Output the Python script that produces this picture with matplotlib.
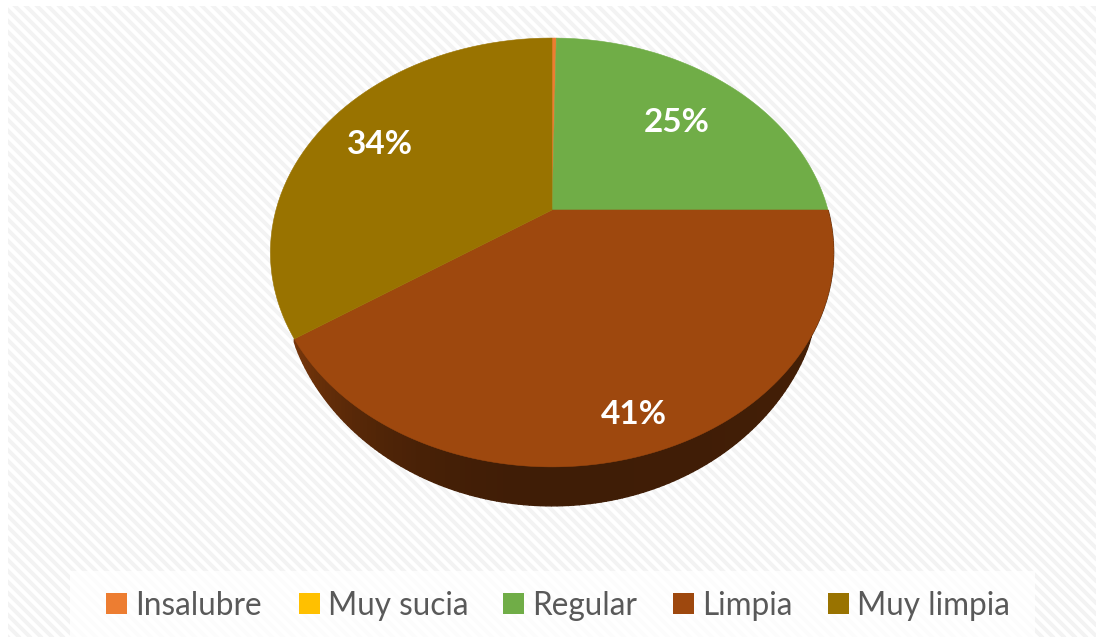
import numpy as np
import matplotlib
matplotlib.use("Agg")
import matplotlib.pyplot as plt
from matplotlib.collections import LineCollection
from matplotlib.patches import Rectangle

categories = ["Insalubre", "Muy sucia", "Regular", "Limpia", "Muy limpia"]
values = [0.3, 0.0, 24.7, 40.6, 34.4]
pct_labels = ["25%", "41%", "34%"]
colors = ["#ed7d31", "#ffc000", "#70ad47", "#9e480e", "#997300"]

plt.rcParams["font.family"] = ["Lato", "DejaVu Sans"]

# pie geometry in pixels, the apex is not the middle of the ellipse (perspective)
CX, CY = 552.0, 210.0
R, K, TILT = 276.0, 206.0, 0.198
DEPTH = 39.0
RIM_START = 337.0  # the side face only shows below this height


def project(theta):
    # theta is clockwise from 12 o'clock
    x = np.sin(theta)
    y = np.cos(theta)
    w = 1 + TILT * y
    return CX + R * x / w, CY - K * y / w


def side_depth(py):
    bottom = CY + K / (1 - TILT)
    return DEPTH * np.clip((py - RIM_START) / (bottom - RIM_START), 0, 1) ** 0.6


fig = plt.figure(figsize=(10.96, 6.37), dpi=100)
ax = fig.add_axes([0, 0, 1, 1])
ax.set_xlim(0, 1096)
ax.set_ylim(637, 0)
ax.axis("off")

# striped chart area and the paler strip behind the legend
area = Rectangle((8, 6), 1088, 631, facecolor="white", edgecolor="none", zorder=0)
ax.add_patch(area)
starts = np.arange(-640, 1100, 11)
stripes = LineCollection([[(s, 0), (s + 640, 640)] for s in starts],
                         colors="#f3f3f3", linewidths=2.8, zorder=0.5)
ax.add_collection(stripes)
stripes.set_clip_path(area)
ax.add_patch(Rectangle((70, 571), 965, 66, facecolor="#ffffff", edgecolor="none",
                       alpha=0.8, zorder=1))

edges = np.cumsum([0] + values) / sum(values) * 2 * np.pi

# side of the pie, one polygon per small step so the shade can change along the rim
base = np.array(matplotlib.colors.to_rgb(colors[3]))
th = np.linspace(edges[3], edges[4], 160)
px, py = project(th)
low = py + side_depth(py)
for j in range(len(th) - 1):
    mid = (th[j] + th[j + 1]) / 2
    left = np.clip((mid - np.pi) / (edges[4] - np.pi), 0, 1)
    right = np.clip((np.pi - mid) / (np.pi - edges[3]), 0, 1)
    shade = 0.40 + 0.36 * left ** 2 + 0.08 * right ** 2
    ax.fill([px[j], px[j + 1], px[j + 1], px[j]],
            [py[j], py[j + 1], low[j + 1], low[j]],
            color=tuple(base * shade), lw=1.0, zorder=2)

# top face
for i, val in enumerate(values):
    if val == 0:
        continue
    th = np.linspace(edges[i], edges[i + 1], max(int(val * 6), 2))
    px, py = project(th)
    ax.fill(np.r_[CX, px], np.r_[CY, py], color=colors[i], lw=0.4, zorder=3)

# value labels
label_pos = [(677, 120), (634, 413), (380, 143)]
for txt, (lx, ly) in zip(pct_labels, label_pos):
    ax.text(lx, ly + 2, txt, color="white", fontsize=24, fontweight="bold",
            ha="center", va="center", zorder=4)

# legend
legend_x = [106, 299, 503, 673, 828]
for name, col, lx in zip(categories, colors, legend_x):
    ax.add_patch(Rectangle((lx, 593), 21, 21, facecolor=col, edgecolor="none", zorder=4))
    ax.text(lx + 29, 606, name, color="#595959", fontsize=22.7,
            ha="left", va="center", zorder=4)

fig.savefig("out.png", dpi=100)
